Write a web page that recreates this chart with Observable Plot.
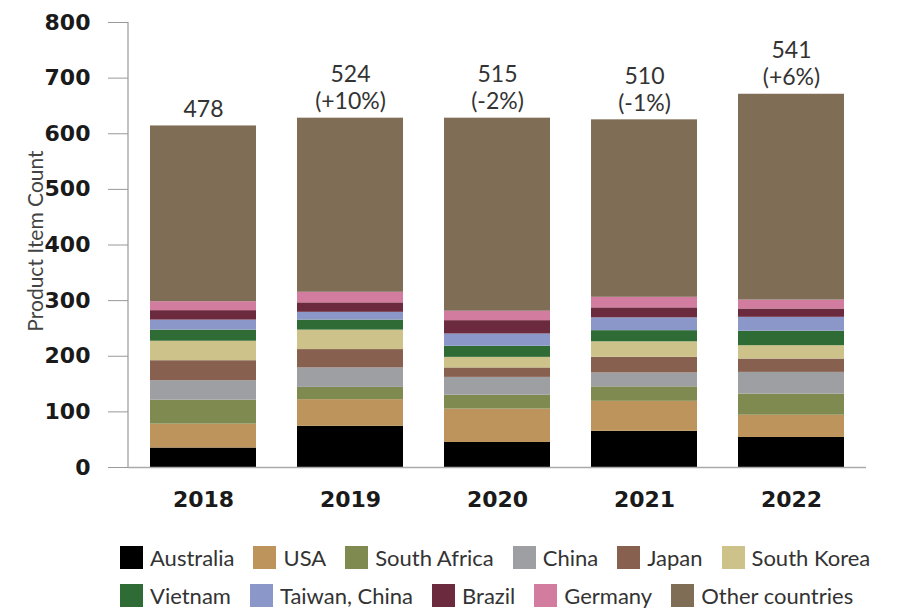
<!DOCTYPE html>
<html>
<head>
<meta charset="utf-8">
<script src="https://cdn.jsdelivr.net/npm/d3@7"></script>
<script src="https://cdn.jsdelivr.net/npm/@observablehq/plot@0.6"></script>
<style>
  html, body { margin: 0; padding: 0; background: #fff; }
  #chart { width: 897px; }
  .legend { padding: 21px 0 0 120px; font-family: Lato, "Open Sans", sans-serif; font-size: 22px; color: #333; }
  .row { display: flex; align-items: center; height: 23px; margin-bottom: 15px; }
  .item { display: flex; align-items: center; margin-right: 19px; height: 23px; white-space: nowrap; }
  .sw { width: 23px; height: 23px; margin-right: 7px; flex: none; }
</style>
</head>
<body>
<div id="chart"></div>
<script>
const years = ["2018", "2019", "2020", "2021", "2022"];
const countries = ["Australia", "USA", "South Africa", "China", "Japan", "South Korea",
                   "Vietnam", "Taiwan, China", "Brazil", "Germany", "Other countries"];
const colors = ["#000000", "#bd955c", "#7e8a50", "#9d9fa3", "#87604f", "#cdc38a",
                "#2f6b34", "#8c97c9", "#6c2a3e", "#d27c9f", "#7f6e55"];

const australia    = [35, 74, 45, 65, 54];
const usa          = [43, 48, 60, 54, 40];
const southAfrica  = [43, 22, 25, 26, 38];
const china        = [35, 35, 32, 25, 39];
const japan        = [36, 33, 17, 28, 24];
const southKorea   = [35, 35, 19, 28, 24];
const vietnam      = [20, 18, 20, 20, 26];
const taiwan       = [18, 14, 22, 23, 25];
const brazil       = [17, 17, 24, 18, 15];
const germany      = [16, 19, 17, 19, 16];
const other        = [316, 313, 347, 319, 370];

const labelCounts  = ["478", "524", "515", "510", "541"];
const labelChanges = ["", "(+10%)", "(-2%)", "(-1%)", "(+6%)"];
const yTicks = [0, 100, 200, 300, 400, 500, 600, 700, 800];
const legendRows = [6, 5]; // items per legend row

const series = [australia, usa, southAfrica, china, japan, southKorea, vietnam, taiwan, brazil, germany, other];
const data = [];
years.forEach((yr, i) => countries.forEach((c, j) => data.push({year: yr, country: c, value: series[j][i]})));
const totals = years.map((yr, i) => ({
  year: yr,
  total: d3.sum(series, s => s[i]),
  label: labelChanges[i] ? labelCounts[i] + "\n" + labelChanges[i] : labelCounts[i]
}));

const marginLeft = 128;
const plot = Plot.plot({
  width: 897,
  height: 525,
  marginLeft,
  marginRight: 31,
  marginTop: 22,
  marginBottom: 58,
  style: { fontFamily: "Lato, 'Open Sans', sans-serif", background: "#fff" },
  x: { domain: years, paddingInner: 0.28, paddingOuter: 0.135, label: null },
  y: { domain: [0, 800], label: null },
  color: { domain: countries, range: colors },
  marks: [
    Plot.barY(data, { x: "year", y: "value", fill: "country" }),
    Plot.ruleY([0], { stroke: "#aaa", strokeWidth: 1.5 }),
    Plot.axisY({ ticks: yTicks, tickSize: 20, tickPadding: 18, stroke: "#999", fill: "#1a1a1a",
                 fontSize: 22, fontWeight: "bold", fontFamily: "'DejaVu Sans', sans-serif", label: null }),
    Plot.axisX({ tickSize: 0, tickPadding: 24, fill: "#1a1a1a", fontSize: 22, fontWeight: "bold",
                 fontFamily: "'DejaVu Sans', sans-serif", label: null }),
    Plot.text(["Product Item Count"], { frameAnchor: "left", textAnchor: "middle", rotate: -90, dx: -92, dy: -4,
                                        fontSize: 21, fill: "#444" }),
    Plot.text(totals, { x: "year", y: "total", text: "label", lineAnchor: "bottom", dy: -9,
                        fontSize: 23, lineHeight: 1.17, fill: "#333" })
  ]
});

// vertical axis line along the frame's left edge
const ys = plot.scale("y");
d3.select(plot).append("line")
  .attr("x1", marginLeft).attr("x2", marginLeft)
  .attr("y1", ys.range[0]).attr("y2", ys.range[1])
  .attr("stroke", "#999").attr("stroke-width", 1.2);

const chart = document.getElementById("chart");
chart.appendChild(plot);

const legend = document.createElement("div");
legend.className = "legend";
let k = 0;
legendRows.forEach(n => {
  const row = document.createElement("div");
  row.className = "row";
  for (let m = 0; m < n; m++, k++) {
    const item = document.createElement("div");
    item.className = "item";
    const sw = document.createElement("span");
    sw.className = "sw";
    sw.style.background = colors[k];
    const t = document.createElement("span");
    t.textContent = countries[k];
    item.appendChild(sw);
    item.appendChild(t);
    row.appendChild(item);
  }
  legend.appendChild(row);
});
chart.appendChild(legend);
</script>
</body>
</html>
